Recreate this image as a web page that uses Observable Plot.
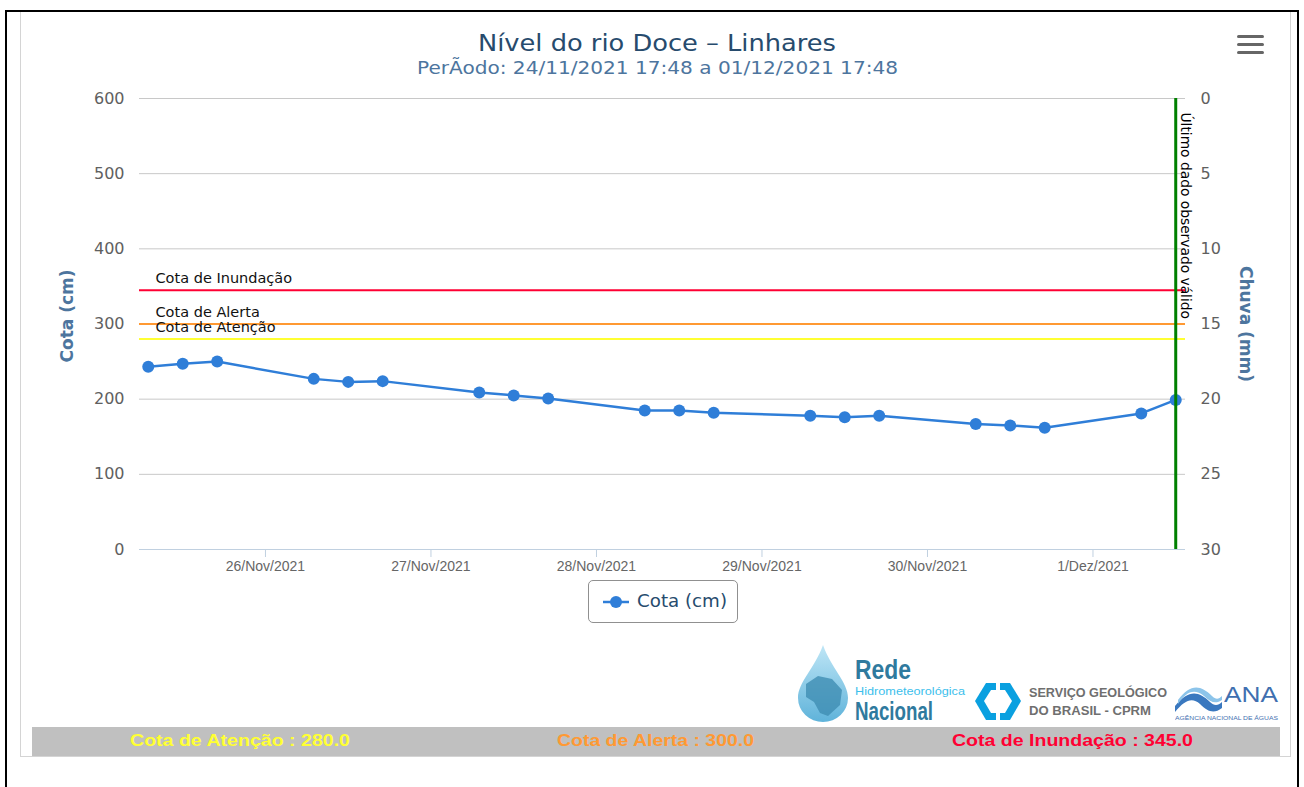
<!DOCTYPE html>
<html><head><meta charset="utf-8">
<script src="https://cdn.jsdelivr.net/npm/d3@7"></script>
<script src="https://cdn.jsdelivr.net/npm/@observablehq/plot@0.6"></script>
<style>
html,body{margin:0;padding:0;background:#fff}
body{width:1304px;height:787px;overflow:hidden;position:relative;font-family:"DejaVu Sans",sans-serif}
#outer{position:absolute;left:5px;top:10px;width:1290px;height:800px;border:2px solid #000;border-bottom:none}
#inner{position:absolute;left:20px;top:12px;width:1269px;height:744px;border:1px solid #d4d4d4;border-top:none}
.t{position:absolute;white-space:nowrap;line-height:1;transform-origin:0 0}
#chart{position:absolute;left:0;top:0}
#legend{position:absolute;left:588px;top:580px;width:148px;height:41px;border:1px solid #909090;border-radius:5px;background:#fff}
#bar{position:absolute;left:32px;top:727px;width:1248px;height:29px;background:#c0c0c0}
.menu{position:absolute;left:1237px;width:27px;height:3px;background:#666;border-radius:2px}
</style></head>
<body>
<div id="outer"></div>
<div id="inner"></div>
<div id="chart"></div>
<div class="t" id="title" style="left:478px;top:32px;font-size:23px;color:#274b6d">Nível do rio Doce – Linhares</div>
<div class="t" id="subtitle" style="left:417px;top:60px;font-size:17px;color:#4d759e">PerÃodo: 24/11/2021 17:48 a 01/12/2021 17:48</div>
<div class="menu" style="top:35px"></div><div class="menu" style="top:43px"></div><div class="menu" style="top:51px"></div>
<div id="legend">
  <svg width="148" height="41" style="position:absolute;left:0;top:0">
    <line x1="14" x2="40" y1="21" y2="21" stroke="#2f7ed8" stroke-width="2.5"/>
    <circle cx="27" cy="21" r="6" fill="#2f7ed8"/>
  </svg>
  <div class="t" id="legtext" style="left:48px;top:11px;font-size:18px;color:#274b6d">Cota (cm)</div>
</div>
<svg id="logos" width="1304" height="787" style="position:absolute;left:0;top:0;pointer-events:none">
  <defs>
    <linearGradient id="drop" x1="0" y1="0" x2="0" y2="1">
      <stop offset="0" stop-color="#bfe6f6"/><stop offset="1" stop-color="#5fb3da"/>
    </linearGradient>
  </defs>
  <path d="M823 645 C815 668 798 682 798 698 A25 24 0 0 0 848 698 C848 682 831 668 823 645 Z" fill="url(#drop)"/>
  <path d="M806 684 L818 676 L832 679 L842 690 L840 705 L828 716 L820 713 L814 702 L806 697 Z" fill="#3f8db3" opacity="0.8"/>
  <path d="M986 683 L1010 683 L1021 701 L1010 720 L986 720 L975 701 Z" fill="#0aa0e0"/>
  <path d="M991 690 L1005 690 L1012 701 L1005 713 L991 713 L984 701 Z" fill="#fff"/>
  <rect x="996" y="683" width="4" height="37" fill="#fff"/>
  <path d="M1175 706 C1188 690 1198 690 1210 702 C1214 706 1218 706 1222 702 L1222 708 C1214 714 1208 712 1200 704 C1192 697 1185 700 1175 712 Z" fill="#3a78bf"/>
  <path d="M1178 700 C1190 684 1200 684 1212 696 C1216 700 1219 699 1222 696 L1222 700 C1216 704 1211 703 1204 696 C1194 688 1186 692 1178 704 Z" fill="#8cc4ea"/>
</svg>
<div class="t fit" data-w="56" style="left:855px;top:657px;font-size:27px;font-weight:bold;color:#2f7a9e;font-family:'Liberation Sans Narrow','Liberation Sans',sans-serif">Rede</div>
<div class="t fit" data-w="110" style="left:855px;top:686px;font-size:11px;color:#3cc0ec;font-family:'Liberation Sans Narrow','Liberation Sans',sans-serif">Hidrometeorológica</div>
<div class="t fit" data-w="78" style="left:855px;top:699px;font-size:25px;font-weight:bold;color:#2f7a9e;font-family:'Liberation Sans Narrow','Liberation Sans',sans-serif">Nacional</div>
<div class="t fit" data-w="138" style="left:1029px;top:686px;font-size:13px;font-weight:bold;color:#6f6f6f;font-family:'Liberation Sans',sans-serif">SERVIÇO GEOLÓGICO</div>
<div class="t fit" data-w="122" style="left:1029px;top:704px;font-size:13px;font-weight:bold;color:#6f6f6f;font-family:'Liberation Sans',sans-serif">DO BRASIL - CPRM</div>
<div class="t fit" data-w="54" style="left:1224px;top:684px;font-size:22px;color:#3f6fb0;font-family:'Liberation Sans',sans-serif">ANA</div>
<div class="t fit" data-w="103" style="left:1175px;top:716px;font-size:5px;color:#3f6fb0;font-family:'Liberation Sans',sans-serif">AGÊNCIA NACIONAL DE ÁGUAS</div>
<div id="bar"></div>
<div id="bottomTexts"></div>
<script>
// ---- data ----
const readingTimes = [
  "2021-11-25T07:00Z","2021-11-25T12:00Z","2021-11-25T17:00Z",
  "2021-11-26T07:00Z","2021-11-26T12:00Z","2021-11-26T17:00Z",
  "2021-11-27T07:00Z","2021-11-27T12:00Z","2021-11-27T17:00Z",
  "2021-11-28T07:00Z","2021-11-28T12:00Z","2021-11-28T17:00Z",
  "2021-11-29T07:00Z","2021-11-29T12:00Z","2021-11-29T17:00Z",
  "2021-11-30T07:00Z","2021-11-30T12:00Z","2021-11-30T17:00Z",
  "2021-12-01T07:00Z","2021-12-01T12:00Z"
];
const cotaValues = [243,247,250, 227,223,224, 209,205,201, 185,185,182, 178,176,178, 167,165,162, 181,199];
const thresholdNames = ["Cota de Atenção","Cota de Alerta","Cota de Inundação"];
const thresholdValues = [280,300,345];
const thresholdColors = ["#ffff33","#ff9933","#ff0033"];
const cotaTicks = [0,100,200,300,400,500,600];
const chuvaTicks = [0,5,10,15,20,25,30];
const dayTicks = ["2021-11-26","2021-11-27","2021-11-28","2021-11-29","2021-11-30","2021-12-01"];
const monthsPt = ["Jan","Fev","Mar","Abr","Mai","Jun","Jul","Ago","Set","Out","Nov","Dez"];
const xDomain = ["2021-11-25T05:44Z","2021-12-01T13:25Z"];
const lastLabel = "Último dado observado válido";
const seriesName = "Cota (cm)";
const rainLabel = "Chuva (mm)";

// ---- build ----
const data = readingTimes.map((t,i)=>({date:new Date(t), cota:cotaValues[i]}));
const thresholds = thresholdNames.map((n,i)=>({name:n, value:thresholdValues[i], color:thresholdColors[i]}));
const lastDate = data[data.length-1].date;
const ticksX = dayTicks.map(d=>new Date(d+"T00:00Z"));
const fmtDate = d => `${d.getUTCDate()}/${monthsPt[d.getUTCMonth()]}/${d.getUTCFullYear()}`;
const chuvaToCota = c => 600 - c*20;

const chart = Plot.plot({
  width:1304, height:580,
  marginLeft:139, marginRight:119, marginTop:98, marginBottom:31,
  style:{fontFamily:"'DejaVu Sans', sans-serif", fontSize:"16px", background:"transparent", overflow:"visible"},
  x:{type:"utc", domain:xDomain.map(d=>new Date(d))},
  y:{domain:[0,600]},
  marks:[
    Plot.ruleY(cotaTicks.filter(v=>v>0), {stroke:"#c8c8c8", strokeWidth:1}),
    Plot.ruleY([0], {stroke:"#c0d0e0", strokeWidth:1}),
    Plot.axisX({ticks:ticksX, tickSize:8, tickFormat:()=>"", color:"#c0d0e0", label:null}),
    Plot.axisX({ticks:ticksX, tickSize:0, tickPadding:12, tickFormat:fmtDate, color:"#666666",
      fontFamily:"'Liberation Sans', Arial, sans-serif", fontSize:14, label:null}),
    Plot.axisY({anchor:"left", ticks:cotaTicks, tickSize:0, tickPadding:15, color:"#606060", fontSize:16, label:null}),
    Plot.axisY({anchor:"right", ticks:chuvaTicks.map(chuvaToCota), tickFormat:d=>String((600-d)/20),
      tickSize:0, tickPadding:15, color:"#606060", fontSize:16, label:null}),
    Plot.text([seriesName], {frameAnchor:"left", textAnchor:"middle", rotate:-90, dx:-71.5, dy:-8, fontWeight:"bold", fontSize:17, fill:"#4d759e"}),
    Plot.text([rainLabel], {frameAnchor:"right", textAnchor:"middle", rotate:90, dx:60, fontWeight:"bold", fontSize:17, fill:"#4d759e"}),
    Plot.ruleY(thresholds, {y:"value", stroke:"color", strokeWidth:2}),
    Plot.text(thresholds, {x:()=>new Date(xDomain[0]), y:"value", text:"name", textAnchor:"start", dx:16, dy:-12, fontSize:14.5, fill:"#111"}),
    Plot.line(data, {x:"date", y:"cota", stroke:"#2f7ed8", strokeWidth:2.5}),
    Plot.dot(data, {x:"date", y:"cota", r:6, fill:"#2f7ed8", stroke:"none"}),
    Plot.ruleX([lastDate], {stroke:"#008000", strokeWidth:3}),
    Plot.text([lastLabel], {x:()=>lastDate, y:()=>600, rotate:90, textAnchor:"start", dx:10, dy:14, fontSize:13.8, fill:"#000"})
  ]
});
document.getElementById("chart").appendChild(chart);

// bottom bar texts
const bt = document.getElementById("bottomTexts");
const barTexts = [
  {t:`${thresholdNames[0]} : ${thresholdValues[0].toFixed(1)}`, c:thresholdColors[0], l:130, w:220},
  {t:`${thresholdNames[1]} : ${thresholdValues[1].toFixed(1)}`, c:thresholdColors[1], l:557, w:197},
  {t:`${thresholdNames[2]} : ${thresholdValues[2].toFixed(1)}`, c:thresholdColors[2], l:952, w:241}
];
for (const b of barTexts) {
  const el = document.createElement("div");
  el.className = "t fit";
  el.dataset.w = b.w;
  el.textContent = b.t;
  el.style.cssText = `left:${b.l}px;top:732px;font-size:17px;font-weight:bold;color:${b.c};font-family:'Liberation Sans',Arial,sans-serif`;
  bt.appendChild(el);
}
function fit(el, w){ const r = el.getBoundingClientRect().width; if (r>0) el.style.transform = `scaleX(${w/r})`; }
fit(document.getElementById("title"), 358);
fit(document.getElementById("subtitle"), 481);
fit(document.getElementById("legtext"), 90);
document.querySelectorAll(".fit").forEach(el=>fit(el, +el.dataset.w));
</script>
</body></html>
